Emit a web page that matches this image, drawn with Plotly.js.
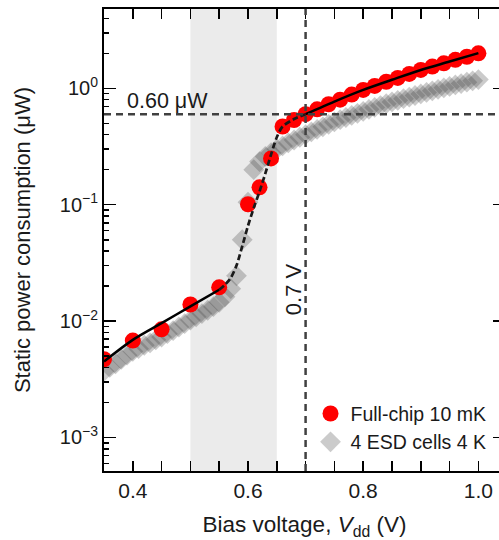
<!DOCTYPE html>
<html><head><meta charset="utf-8">
<script src="https://cdn.plot.ly/plotly-3.0.1.min.js"></script>
<style>html,body{margin:0;padding:0;overflow:hidden;background:#fff}#chart{width:505px;height:540px}</style>
</head><body><div id="chart"></div>
<script>
// Full-chip 10 mK (red circles)
const redV = [0.35,0.40,0.45,0.50,0.55,0.60,0.62,0.64,0.66,0.68,0.70,0.72,0.74,0.76,0.78,0.80,0.82,0.84,0.86,0.88,0.90,0.92,0.94,0.96,0.98,1.00];
const redP = [0.0047,0.0068,0.0085,0.0139,0.0195,0.101,0.141,0.250,0.47,0.535,0.60,0.66,0.73,0.80,0.885,0.97,1.05,1.14,1.23,1.33,1.44,1.54,1.64,1.76,1.87,2.00];
// 4 ESD cells 4 K (gray diamonds)
const grayV = [0.35,0.36,0.37,0.38,0.39,0.40,0.41,0.42,0.43,0.44,0.45,0.46,0.47,0.48,0.49,0.50,0.51,0.52,0.53,0.54,0.55,0.56,0.57,0.58,0.59,0.60,0.61,0.62,0.63,0.64,0.65,0.66,0.67,0.68,0.69,0.70,0.71,0.72,0.73,0.74,0.75,0.76,0.77,0.78,0.79,0.80,0.81,0.82,0.83,0.84,0.85,0.86,0.87,0.88,0.89,0.90,0.91,0.92,0.93,0.94,0.95,0.96,0.97,0.98,0.99,1.00];
const grayP = [0.0037,0.0040,0.0043,0.0047,0.0051,0.0055,0.0058,0.0062,0.0065,0.0069,0.0073,0.0078,0.0083,0.0089,0.0095,0.0102,0.0109,0.0116,0.0124,0.0133,0.0145,0.0162,0.0190,0.0245,0.050,0.105,0.20,0.235,0.26,0.28,0.30,0.32,0.34,0.36,0.38,0.400,0.422,0.444,0.467,0.491,0.515,0.538,0.562,0.586,0.610,0.635,0.660,0.686,0.712,0.738,0.765,0.790,0.816,0.842,0.868,0.895,0.923,0.952,0.981,1.010,1.040,1.070,1.100,1.130,1.160,1.190];
// fitted curves (black)
const lowFitV = [0.35,0.40,0.45,0.50,0.55];
const lowFitP = [0.0045,0.0069,0.0096,0.0134,0.0186];
const midFitV = [0.55,0.56,0.57,0.58,0.59,0.60,0.61,0.62,0.63,0.64,0.65,0.66,0.68,0.70];
const midFitP = [0.0186,0.0205,0.0235,0.030,0.044,0.066,0.094,0.13,0.185,0.27,0.38,0.47,0.545,0.60];
const highFitV = [0.70,0.75,0.80,0.85,0.90,0.95,1.00];
const highFitP = [0.60,0.77,0.97,1.185,1.44,1.70,2.01];
// reference levels
const powerLevel = 0.60;
const voltLevel = 0.7;
const shadeRange = [0.50, 0.65];
// ticks
const xTickVals = [0.4,0.6,0.8,1.0];
const xTickText = ['0.4','0.6','0.8','1.0'];
const yTickVals = [0.001,0.01,0.1,1];
const yTickText = ['10<sup>−3</sup>','10<sup>−2</sup>','10<sup>−1</sup>','10<sup>0</sup>'];

const yMinor = [];
for (let d = -4; d <= 0; d++) for (let m = 2; m <= 9; m++) yMinor.push(m * Math.pow(10, d));

const FONT = '"Liberation Sans", Arial, sans-serif';
const TXT = '#1a1a1a';

const traces = [
  {x: grayV, y: grayP, mode: 'markers', type: 'scatter', name: '4 ESD cells 4 K', legendrank: 2,
   marker: {symbol: 'diamond', size: 16, color: '#404040', opacity: 0.27, line: {width: 0}}},
  {x: redV, y: redP, mode: 'markers', type: 'scatter', name: 'Full-chip 10 mK', legendrank: 1,
   marker: {symbol: 'circle', size: 16, color: '#ff0000', line: {width: 0}}},
  {x: lowFitV, y: lowFitP, mode: 'lines', type: 'scatter', showlegend: false,
   line: {color: '#000', width: 2.5, shape: 'spline', smoothing: 0.8}},
  {x: midFitV, y: midFitP, mode: 'lines', type: 'scatter', showlegend: false,
   line: {color: '#1a1a1a', width: 2.7, dash: '6px,3px', shape: 'spline', smoothing: 0.8}},
  {x: highFitV, y: highFitP, mode: 'lines', type: 'scatter', showlegend: false,
   line: {color: '#000', width: 2.5, shape: 'spline', smoothing: 0.8}}
];

const layout = {
  width: 505, height: 540,
  margin: {l: 104, r: 0, t: 9, b: 69},
  paper_bgcolor: '#fff', plot_bgcolor: 'rgba(0,0,0,0)',
  font: {family: FONT, color: TXT, size: 21},
  showlegend: true,
  legend: {x: 0.515, xanchor: 'left', y: 0.166, yanchor: 'top', bgcolor: 'rgba(0,0,0,0)',
           font: {family: FONT, size: 19.5, color: TXT}, tracegroupgap: 0},
  xaxis: {
    range: [0.35, 1.0462], type: 'linear',
    tickmode: 'array', tickvals: xTickVals, ticktext: xTickText,
    ticks: 'inside', ticklen: 10, tickwidth: 1.5, tickcolor: '#000',
    minor: {dtick: 0.05, tick0: 0, ticks: 'inside', ticklen: 10, tickwidth: 1.5, tickcolor: '#000'},
    showline: true, linewidth: 2, linecolor: '#000', mirror: 'ticks',
    showgrid: false, zeroline: false,
    tickfont: {size: 21, family: FONT, color: TXT},
    title: {text: 'Bias voltage, <i>V</i><sub>dd</sub> (V)', font: {size: 22.5, family: FONT, color: TXT}}
  },
  yaxis: {
    type: 'log', range: [-3.288, 0.682],
    tickmode: 'array', tickvals: yTickVals, ticktext: yTickText,
    ticks: 'inside', ticklen: 12, tickwidth: 1.5, tickcolor: '#000',
    minor: {tickmode: 'array', tickvals: yMinor, ticks: 'inside', ticklen: 5, tickwidth: 1.5, tickcolor: '#000'},
    showline: true, linewidth: 2, linecolor: '#000', mirror: 'ticks',
    showgrid: false, zeroline: false,
    tickfont: {size: 20, family: FONT, color: TXT},
    title: {text: 'Static power consumption (μW)', standoff: 23, font: {size: 22, family: FONT, color: TXT}}
  },
  shapes: [
    {type: 'rect', xref: 'x', yref: 'paper', x0: shadeRange[0], x1: shadeRange[1], y0: 0, y1: 1,
     fillcolor: '#ebebeb', line: {width: 0}, layer: 'below'},
    {type: 'line', xref: 'paper', yref: 'y', x0: 0, x1: 1, y0: powerLevel, y1: powerLevel,
     line: {color: '#404040', width: 2.5, dash: '7px,5px'}, layer: 'above'},
    {type: 'line', xref: 'x', yref: 'paper', x0: voltLevel, x1: voltLevel, y0: 0, y1: 1,
     line: {color: '#404040', width: 2.5, dash: '7px,5px'}, layer: 'above'}
  ],
  annotations: [
    {xref: 'x', yref: 'y', x: 0.386, y: -0.11, xanchor: 'left', yanchor: 'middle', showarrow: false,
     text: powerLevel.toFixed(2) + ' μW', font: {size: 21.5, family: FONT, color: TXT}},
    {xref: 'x', yref: 'y', x: 0.679, y: -1.73, xanchor: 'center', yanchor: 'middle', showarrow: false,
     textangle: -90, text: voltLevel.toFixed(1) + ' V', font: {size: 22, family: FONT, color: TXT}}
  ]
};

Plotly.newPlot('chart', traces, layout, {displayModeBar: false, staticPlot: true});
</script>
</body></html>
